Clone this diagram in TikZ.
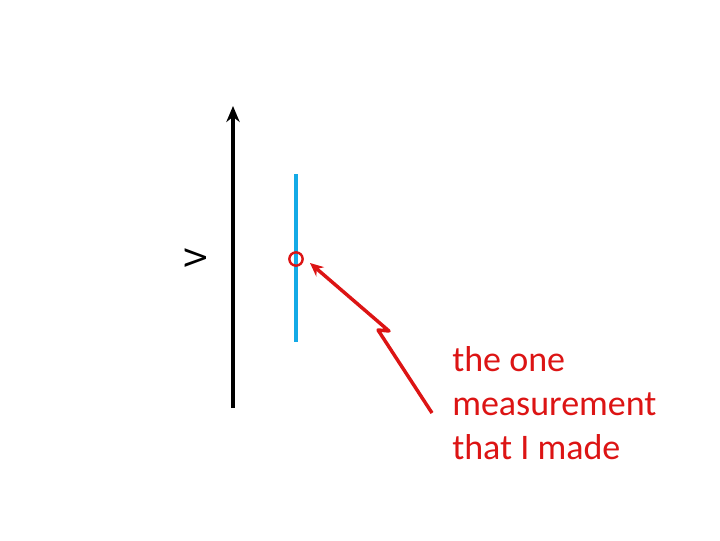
\documentclass[tikz,border=0pt]{standalone}
\usepackage{fontspec}
\setmainfont{Carlito}
\usetikzlibrary{arrows.meta}
\definecolor{myred}{RGB}{220,20,20}
\definecolor{myblue}{RGB}{20,170,230}
\begin{document}
\begin{tikzpicture}[x=0.75pt,y=-0.75pt,
  lbl/.style={font=\fontsize{27}{33}\selectfont,text=myred,align=left,anchor=north west,inner sep=0pt}]
\useasboundingbox (0,0) rectangle (720,540);
\coordinate (vb) at (233,408);
\coordinate (vt) at (233,106);
\draw[line width=2.6pt,-{Stealth[length=12pt,width=10pt]}] (vb) -- (vt);
\node[rotate=90,font=\fontsize{25}{30}\selectfont,inner sep=0pt] (V) at (196,258) {V};
\coordinate (bt) at (296,174);
\coordinate (bb) at (296,342);
\draw[myblue,line width=2.6pt] (bt) -- (bb);
\node[circle,draw=myred,line width=1.8pt,minimum size=10pt,inner sep=0pt] (m) at (296,259) {};
\node[lbl] (t) at (452,346) {the one\\measurement\\that I made};
\coordinate (s) at (432,413);
\coordinate (z1) at (378,330);
\coordinate (z2) at (389,331);
\coordinate (tip) at (310,263);
\draw[myred,line width=2.6pt,-{Stealth[length=10pt,width=9pt]},line join=round] (s) -- (z1) -- (z2) -- (tip);
\end{tikzpicture}
\end{document}
